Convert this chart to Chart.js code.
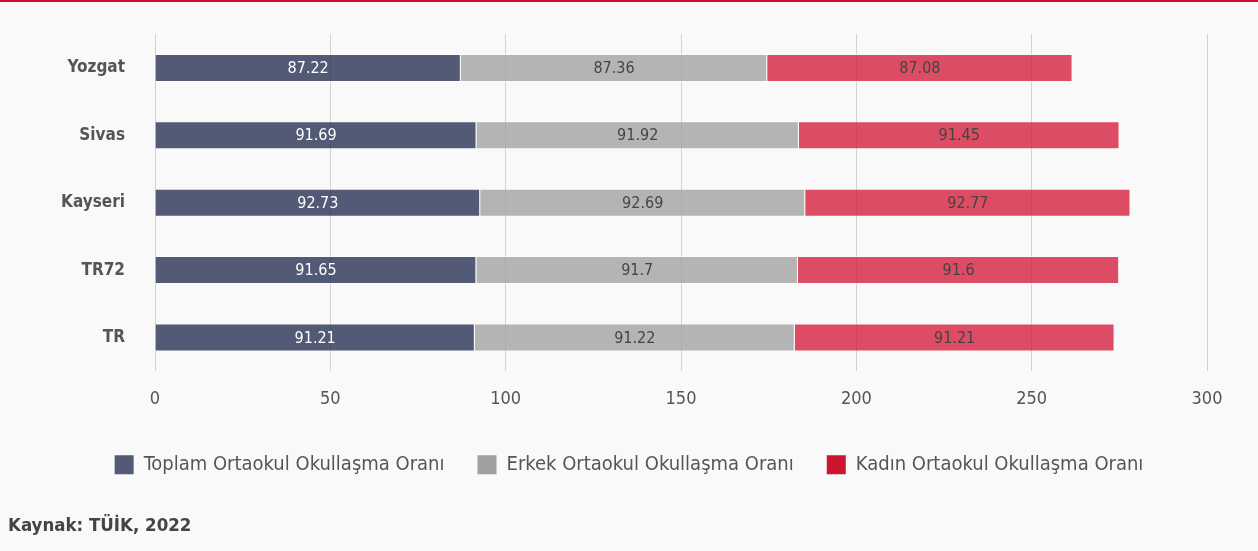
<!DOCTYPE html>
<html>
<head>
<meta charset="utf-8">
<script src="https://cdn.jsdelivr.net/npm/chart.js@4/dist/chart.umd.min.js"></script>
<style>
  html, body { margin: 0; padding: 0; background: #f9f9f9; }
  .topline { height: 2px; background: #d0102e; }
  .wrap { position: relative; width: 1258px; height: 549px; }
</style>
</head>
<body>
<div class="topline"></div>
<div class="wrap"><canvas id="oranChart"></canvas></div>
<script>
const iller = ["Yozgat", "Sivas", "Kayseri", "TR72", "TR"];
const toplam = [87.22, 91.69, 92.73, 91.65, 91.21];
const erkek = [87.36, 91.92, 92.69, 91.7, 91.22];
const kadin = [87.08, 91.45, 92.77, 91.6, 91.21];
const xTicks = [0, 50, 100, 150, 200, 250, 300];

const fontAd = "'DejaVu Sans', sans-serif";

// bar içine değer yazan küçük eklenti
const degerEtiketi = {
  id: "degerEtiketi",
  afterDatasetsDraw(chart) {
    const ctx = chart.ctx;
    ctx.save();
    ctx.font = "condensed 16px " + fontAd;
    ctx.textAlign = "center";
    ctx.textBaseline = "middle";
    chart.data.datasets.forEach((ds, i) => {
      const meta = chart.getDatasetMeta(i);
      meta.data.forEach((bar, j) => {
        const cx = (bar.x + bar.base) / 2;
        ctx.fillStyle = i === 0 ? "#ffffff" : "#444444";
        ctx.fillText(String(ds.data[j]), cx, bar.y + 1);
      });
    });
    ctx.restore();
  },
};

new Chart(document.getElementById("oranChart"), {
  type: "bar",
  data: {
    labels: iller,
    datasets: [
      {
        label: "Toplam Ortaokul Okullaşma Oranı",
        data: toplam,
        backgroundColor: "rgba(40, 50, 84, 0.8)",
        borderColor: "rgba(255, 255, 255, 0.5)",
        borderWidth: 1,
      },
      {
        label: "Erkek Ortaokul Okullaşma Oranı",
        data: erkek,
        backgroundColor: "rgba(163, 163, 163, 0.8)",
        borderColor: "rgba(255, 255, 255, 0.5)",
        borderWidth: 1,
      },
      {
        label: "Kadın Ortaokul Okullaşma Oranı",
        data: kadin,
        backgroundColor: "rgba(213, 33, 63, 0.8)",
        borderColor: "rgba(255, 255, 255, 0.5)",
        borderWidth: 1,
      },
    ],
  },
  plugins: [degerEtiketi],
  options: {
    indexAxis: "y",
    responsive: true,
    maintainAspectRatio: false,
    animation: false,
    barPercentage: 0.8,
    categoryPercentage: 0.52,
    layout: { padding: { left: 8, right: 8, top: 29, bottom: 8 } },
    plugins: {
      legend: {
        position: "bottom",
        labels: {
          color: "#555",
          font: { family: fontAd, size: 20, weight: "condensed" },
          boxWidth: 19,
          boxHeight: 19,
          padding: 33,
          generateLabels(chart) {
            const renk = ["#525a75", "#a0a0a0", "#cc1530"];
            return chart.data.datasets.map((ds, i) => ({
              text: ds.label,
              fillStyle: renk[i],
              strokeStyle: renk[i],
              lineWidth: 0,
              datasetIndex: i,
              fontColor: "#555",
            }));
          },
        },
      },
      subtitle: {
        display: true,
        text: "Kaynak: TÜİK, 2022",
        position: "bottom",
        align: "start",
        color: "#444",
        font: { family: fontAd, size: 18.5, weight: "condensed bold" },
        padding: { top: 30, bottom: 6 },
      },
      tooltip: { enabled: false },
    },
    scales: {
      x: {
        stacked: true,
        min: 0,
        max: 300,
        afterBuildTicks(s) { s.ticks = xTicks.map(v => ({ value: v })); },
        afterFit(s) { s.height -= 5; },
        border: { display: false },
        grid: { color: "#d2d2d2", drawTicks: false },
        ticks: { color: "#555", font: { family: fontAd, size: 18, weight: "condensed" }, padding: 17 },
      },
      y: {
        stacked: true,
        afterFit(s) { s.width = 147; },
        border: { display: false },
        grid: { display: false },
        ticks: { color: "#555", font: { family: fontAd, size: 17, weight: "condensed bold" }, padding: 22 },
      },
      // sağda boş eksen: grafik alanını 300'de bitirir, lejant ortalı kalır
      ySag: {
        type: "category",
        position: "right",
        afterFit(s) { s.width = 43; },
        border: { display: false },
        grid: { display: false },
        ticks: { display: false },
      },
    },
  },
});
</script>
</body>
</html>
